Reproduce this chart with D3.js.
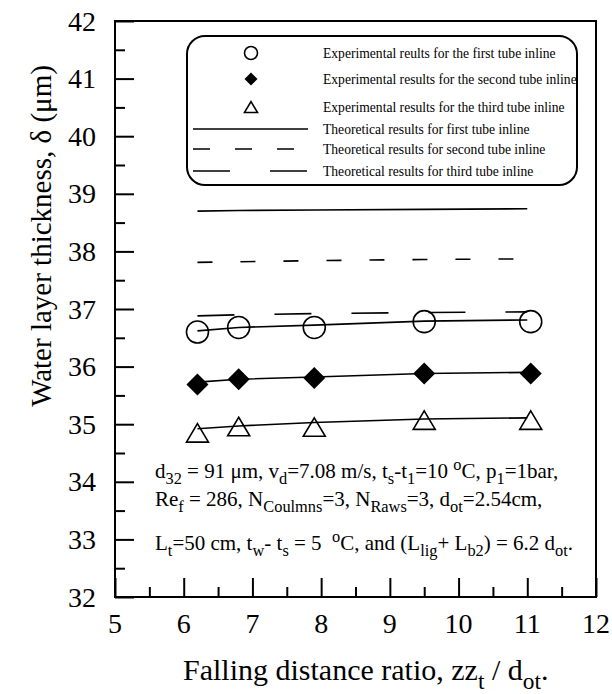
<!DOCTYPE html>
<html>
<head>
<meta charset="utf-8">
<script src="https://cdn.jsdelivr.net/npm/d3@7"></script>
<style>
  body { margin: 0; background: #fff; }
  svg text { fill: #000; white-space: pre; }
</style>
</head>
<body>
<div id="chart"></div>
<script>
// measured points (falling distance ratio on x)
const xRatio = [6.2, 6.8, 7.9, 9.5, 11.05];
const xTheory = [6.2, 6.8, 7.9, 9.5, 11.0];

// experimental results, um
const expFirst = [36.6, 36.68, 36.68, 36.78, 36.78];
const expSecond = [35.69, 35.78, 35.8, 35.88, 35.88];
const expThird = [34.85, 34.96, 34.95, 35.07, 35.07];

// fitted curves through the experiments
const fitFirst = [36.62, 36.68, 36.72, 36.79, 36.81];
const fitSecond = [35.73, 35.78, 35.82, 35.88, 35.9];
const fitThird = [34.92, 34.97, 35.03, 35.09, 35.11];

// theoretical results
const theoryFirst = [38.7, 38.71, 38.72, 38.73, 38.74];
const theorySecond = [37.81, 37.82, 37.84, 37.86, 37.87];
const theoryThird = [36.88, 36.9, 36.92, 36.94, 36.95];

const xTicks = [5, 6, 7, 8, 9, 10, 11, 12];
const yTicks = [32, 33, 34, 35, 36, 37, 38, 39, 40, 41, 42];

const legendLabels = [
  "Experimental reults for the first tube inline",
  "Experimental results for the second tube inline",
  "Experimental results for the third tube inline",
  "Theoretical results for first tube inline",
  "Theoretical results for second tube inline",
  "Theoretical results for third tube inline",
];

const W = 612, H = 694;
const margin = { left: 115, top: 21, right: 16, bottom: 97 };
const width = W - margin.left - margin.right;
const height = H - margin.top - margin.bottom;

const svg = d3.select("#chart").append("svg")
  .attr("width", W).attr("height", H)
  .attr("font-family", "'Liberation Serif', 'DejaVu Serif', Times, serif");

const x = d3.scaleLinear().domain([5, 12]).range([0, width]);
const y = d3.scaleLinear().domain([32, 42]).range([height, 0]);

const g = svg.append("g")
  .attr("transform", `translate(${margin.left},${margin.top})`);

// text with sub / superscripts
function richText(parent, tx, ty, parts, size, anchor) {
  const t = parent.append("text").attr("x", tx).attr("y", ty)
    .attr("font-size", size)
    .attr("text-anchor", anchor || "start");
  let shift = 0;
  parts.forEach(([s, kind]) => {
    const target = kind === "sub" ? size * 0.3 : kind === "sup" ? -size * 0.4 : 0;
    t.append("tspan")
      .attr("dy", target - shift)
      .attr("font-size", kind ? size * 0.78 : null)
      .text(s);
    shift = target;
  });
  return t;
}

// axes: inward ticks, majors + half minors
const yAxis = d3.axisLeft(y).tickValues(d3.range(32, 42.01, 0.5))
  .tickSize(0).tickFormat("");
const gy = g.append("g").call(yAxis);
gy.select(".domain").remove();
gy.selectAll(".tick line")
  .attr("x2", d => Number.isInteger(d) ? 19 : 10)
  .attr("stroke", "#000").attr("stroke-width", 2);

const xAxis = d3.axisBottom(x).tickValues(d3.range(5, 12.01, 0.5))
  .tickSize(0).tickFormat("");
const gx = g.append("g").attr("transform", `translate(0,${height})`).call(xAxis);
gx.select(".domain").remove();
gx.selectAll(".tick line")
  .attr("y2", d => Number.isInteger(d) ? -19 : -10)
  .attr("stroke", "#000").attr("stroke-width", 2);

g.append("rect")
  .attr("width", width).attr("height", height)
  .attr("fill", "none").attr("stroke", "#000").attr("stroke-width", 2);

// tick labels
g.selectAll(".ylab").data(yTicks).enter().append("text")
  .attr("class", "ylab")
  .attr("x", -19).attr("y", d => y(d))
  .attr("dy", "0.34em")
  .attr("text-anchor", "end")
  .attr("font-size", 28)
  .text(d => d);

g.selectAll(".xlab").data(xTicks).enter().append("text")
  .attr("class", "xlab")
  .attr("x", d => x(d)).attr("y", height + 36)
  .attr("text-anchor", "middle")
  .attr("font-size", 28)
  .text(d => d);

// axis titles
richText(svg, 183, 680, [["Falling distance ratio, zz"], ["t", "sub"], [" / d"], ["ot", "sub"], ["."]], 30);

svg.append("text")
  .attr("transform", `translate(51,236) rotate(-90)`)
  .attr("text-anchor", "middle")
  .attr("font-size", 29)
  .text("Water layer thickness, \u03b4 (\u03bcm)");

// lines
const line = xs => d3.line().x((d, i) => x(xs[i])).y(d => y(d));

const lineSpecs = [
  { data: theoryFirst, xs: xTheory, dash: null },
  { data: theorySecond, xs: xTheory, dash: "15,28" },
  { data: theoryThird, xs: xTheory, dash: "37,40" },
  { data: fitFirst, xs: xTheory, dash: null },
  { data: fitSecond, xs: xTheory, dash: null },
  { data: fitThird, xs: xTheory, dash: null },
];
lineSpecs.forEach(s => {
  g.append("path")
    .attr("d", line(s.xs)(s.data))
    .attr("fill", "none")
    .attr("stroke", "#000")
    .attr("stroke-width", 1.6)
    .attr("stroke-dasharray", s.dash);
});

// markers
function marker(sel, kind, size) {
  if (kind === "circle") {
    sel.append("circle").attr("r", size / 2)
      .attr("fill", "none").attr("stroke", "#000").attr("stroke-width", 1.6);
  } else if (kind === "diamond") {
    const h = size / 2;
    sel.append("path").attr("d", `M0,${-h}L${h},0L0,${h}L${-h},0Z`)
      .attr("fill", "#000");
  } else {
    const h = size * 0.42, w = size / 2;
    sel.append("path").attr("d", `M0,${-h}L${w},${h}L${-w},${h}Z`)
      .attr("fill", "none").attr("stroke", "#000").attr("stroke-width", 1.6);
  }
}

[[expFirst, "circle"], [expSecond, "diamond"], [expThird, "triangle"]].forEach(([data, kind]) => {
  data.forEach((v, i) => {
    const m = g.append("g").attr("transform", `translate(${x(xRatio[i])},${y(v)})`);
    marker(m, kind, 22);
  });
});

// legend
const lg = svg.append("g");
lg.append("rect")
  .attr("x", 187).attr("y", 36).attr("width", 390).attr("height", 149)
  .attr("rx", 18).attr("ry", 18)
  .attr("fill", "none").attr("stroke", "#000").attr("stroke-width", 2);

const rowsY = [53, 79, 107, 129, 149, 171];
const symKinds = ["circle", "diamond", "triangle"];
const dashes = [null, "17,25", "37,40"];
legendLabels.forEach((label, i) => {
  if (i < 3) {
    marker(lg.append("g").attr("transform", `translate(251,${rowsY[i]})`), symKinds[i], 13);
  } else {
    lg.append("line")
      .attr("x1", 193).attr("x2", 308)
      .attr("y1", rowsY[i]).attr("y2", rowsY[i])
      .attr("stroke", "#000").attr("stroke-width", 1.6)
      .attr("stroke-dasharray", dashes[i - 3]);
  }
  lg.append("text")
    .attr("x", 323).attr("y", rowsY[i] + 4.5)
    .attr("font-size", 13.6)
    .text(label);
});

// conditions note
const note = [
  [["d"], ["32", "sub"], [" = 91 \u03bcm, v"], ["d", "sub"], ["=7.08 m/s, t"], ["s", "sub"], ["-t"], ["1", "sub"], ["=10 "], ["o", "sup"], ["C, p"], ["1", "sub"], ["=1bar,"]],
  [["Re"], ["f", "sub"], [" = 286, N"], ["Coulmns", "sub"], ["=3, N"], ["Raws", "sub"], ["=3, d"], ["ot", "sub"], ["=2.54cm,"]],
  [["L"], ["t", "sub"], ["=50 cm, t"], ["w", "sub"], ["- t"], ["s", "sub"], [" = 5  "], ["o", "sup"], ["C, and (L"], ["lig", "sub"], ["+ L"], ["b2", "sub"], [") = 6.2 d"], ["ot", "sub"], ["."]],
];
const noteY = [478, 506, 550];
note.forEach((parts, i) => richText(svg, 155, noteY[i], parts, 21));
</script>
</body>
</html>
